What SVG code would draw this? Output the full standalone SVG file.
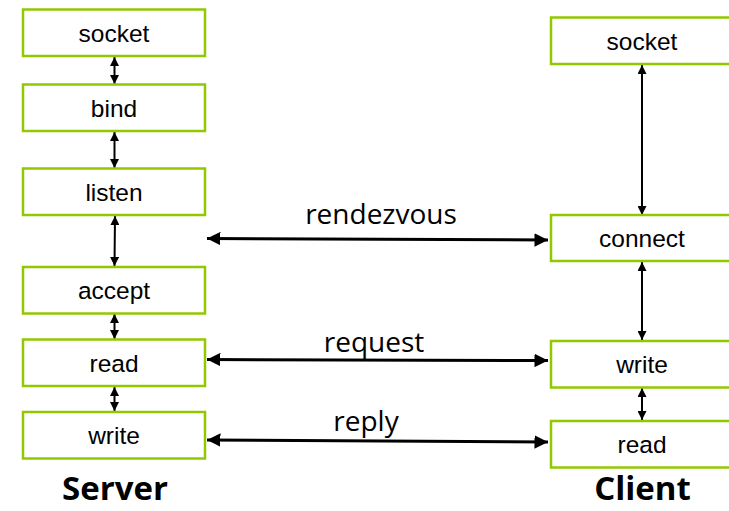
<svg xmlns="http://www.w3.org/2000/svg" width="729" height="511" viewBox="0 0 729 511">
<defs>
<style>
.box{fill:#fff;stroke:#92c800;stroke-width:2.5}
.t{font-family:"Liberation Sans",Arial,sans-serif;font-size:24.5px;fill:#000;text-anchor:middle}
.lbl{font-family:"Open Sans","Noto Sans",sans-serif;font-size:28px;fill:#000;text-anchor:middle}
.ttl{font-family:"Open Sans","Noto Sans",sans-serif;font-size:33px;font-weight:bold;fill:#000;text-anchor:middle}
.v{stroke:#000;stroke-width:2;fill:none;marker-start:url(#as);marker-end:url(#ae)}
.h{stroke:#000;stroke-width:3;fill:none;marker-start:url(#hs);marker-end:url(#he)}
</style>
<marker id="ae" viewBox="0 0 10 10" refX="10" refY="5" markerWidth="4.5" markerHeight="4.5" orient="auto" markerUnits="strokeWidth"><path d="M0,0L10,5L0,10z" fill="#000"/></marker>
<marker id="as" viewBox="0 0 10 10" refX="0" refY="5" markerWidth="4.5" markerHeight="4.5" orient="auto" markerUnits="strokeWidth"><path d="M10,0L0,5L10,10z" fill="#000"/></marker>
<marker id="he" viewBox="0 0 10 10" refX="10" refY="5" markerWidth="4.5" markerHeight="4.5" orient="auto" markerUnits="strokeWidth"><path d="M0,0L10,5L0,10z" fill="#000"/></marker>
<marker id="hs" viewBox="0 0 10 10" refX="0" refY="5" markerWidth="4.5" markerHeight="4.5" orient="auto" markerUnits="strokeWidth"><path d="M10,0L0,5L10,10z" fill="#000"/></marker>
</defs>
<g id="connectors">
<line class="v" x1="114.5" y1="57" x2="114.5" y2="84"/>
<line class="v" x1="114.5" y1="132" x2="114.5" y2="168"/>
<line class="v" x1="115" y1="216" x2="114.5" y2="266"/>
<line class="v" x1="114.5" y1="314" x2="114.5" y2="339"/>
<line class="v" x1="114.5" y1="387" x2="114.5" y2="411"/>
<line class="v" x1="642" y1="65" x2="642" y2="215"/>
<line class="v" x1="642" y1="262" x2="642" y2="340"/>
<line class="v" x1="642" y1="388" x2="642" y2="420"/>
<line class="h" x1="207" y1="238.5" x2="548" y2="240"/>
<line class="h" x1="207" y1="359.5" x2="548" y2="360.5"/>
<line class="h" x1="207" y1="440" x2="548" y2="442"/>
</g>
<g id="labels">
<text class="lbl" x="381" y="224">rendezvous</text>
<text class="lbl" x="374" y="352">request</text>
<text class="lbl" x="366" y="431">reply</text>
</g>
<g id="s-socket"><rect class="box" x="23" y="9.5" width="182" height="46.5"/><text class="t" x="114" y="41.5">socket</text></g>
<g id="s-bind"><rect class="box" x="23" y="84.5" width="182" height="46.5"/><text class="t" x="114" y="116.5">bind</text></g>
<g id="s-listen"><rect class="box" x="23" y="168.5" width="182" height="46.5"/><text class="t" x="114" y="200.5">listen</text></g>
<g id="s-accept"><rect class="box" x="23" y="267" width="182" height="46.5"/><text class="t" x="114" y="299">accept</text></g>
<g id="s-read"><rect class="box" x="23" y="339.5" width="182" height="46.5"/><text class="t" x="114" y="371.5">read</text></g>
<g id="s-write"><rect class="box" x="23" y="412" width="182" height="46.5"/><text class="t" x="114" y="444">write</text></g>
<g id="c-socket"><rect class="box" x="551" y="17.5" width="182" height="46.5"/><text class="t" x="642" y="49.5">socket</text></g>
<g id="c-connect"><rect class="box" x="551" y="215" width="182" height="46"/><text class="t" x="642" y="247">connect</text></g>
<g id="c-write"><rect class="box" x="551" y="341" width="182" height="46.5"/><text class="t" x="642" y="373">write</text></g>
<g id="c-read"><rect class="box" x="551" y="421" width="182" height="46.5"/><text class="t" x="642" y="453">read</text></g>
<g id="titles">
<text class="ttl" x="115" y="500">Server</text>
<text class="ttl" x="642.5" y="500">Client</text>
</g>
</svg>
